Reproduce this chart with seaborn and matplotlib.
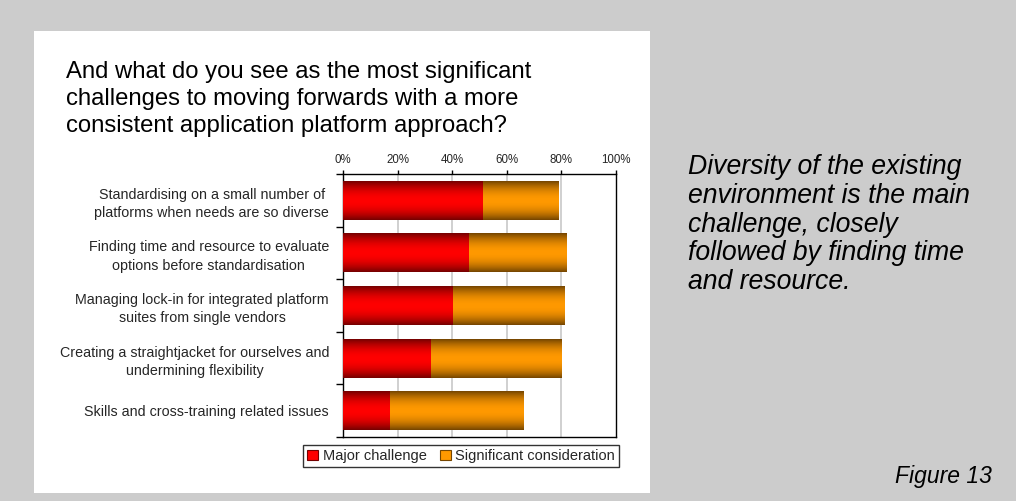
import numpy as np
import pandas as pd
import matplotlib
matplotlib.use("Agg")
import matplotlib.pyplot as plt
from matplotlib.patches import Rectangle, Patch
from matplotlib.colors import to_rgb
import seaborn as sns

# Survey responses (% of respondents)
challenges = [
    "Standardising on a small number of\nplatforms when needs are so diverse",
    "Finding time and resource to evaluate\noptions before standardisation",
    "Managing lock-in for integrated platform\nsuites from single vendors",
    "Creating a straightjacket for ourselves and\nundermining flexibility",
    "Skills and cross-training related issues",
]
major_challenge = [51, 46, 40, 32, 17]
significant_consideration = [28, 36, 41, 48, 49]
x_ticks = [0, 20, 40, 60, 80, 100]
x_tick_labels = ["0%", "20%", "40%", "60%", "80%", "100%"]

title_text = ("And what do you see as the most significant\n"
              "challenges to moving forwards with a more\n"
              "consistent application platform approach?")
side_note = ("Diversity of the existing\nenvironment is the main\n"
             "challenge, closely\nfollowed by finding time\nand resource.")
figure_label = "Figure 13"

sns.set_theme(style="white")
plt.rcParams["font.family"] = ["Liberation Sans", "DejaVu Sans"]

RED_BRIGHT, RED_DARK = "#ff0000", "#760000"
ORG_BRIGHT, ORG_DARK = "#ff9900", "#764600"

df = pd.DataFrame({
    "challenge": challenges,
    "major": major_challenge,
    "total": np.array(major_challenge) + np.array(significant_consideration),
})

W, H = 1016, 501
fig = plt.figure(figsize=(W / 100, H / 100), dpi=100)
fig.patch.set_facecolor("#cccccc")

# white panel holding the chart
fig.patches.append(Rectangle((34 / W, 8 / H), 616 / W, 462 / H,
                             transform=fig.transFigure, facecolor="white",
                             edgecolor="none", zorder=-5))

ax = fig.add_axes([343 / W, 1 - 437 / H, 273 / W, 263 / H])
ax.set_facecolor("white")
ax.set_zorder(1)

sns.barplot(data=df, y="challenge", x="total", color=ORG_BRIGHT, orient="h",
            width=0.74, ax=ax, zorder=2, linewidth=0)
sns.barplot(data=df, y="challenge", x="major", color=RED_BRIGHT, orient="h",
            width=0.74, ax=ax, zorder=3, linewidth=0)


def shaded(patch, bright, dark, z):
    """Paint a vertical gradient (dark edges, bright middle) inside a bar."""
    x0, y0 = patch.get_x(), patch.get_y()
    w, h = patch.get_width(), patch.get_height()
    t = np.linspace(0, 1, 64)
    f = 1 - np.abs(2 * t - 1) ** 2.0
    b, d = np.array(to_rgb(bright)), np.array(to_rgb(dark))
    img = d[None, :] + (b - d)[None, :] * f[:, None]
    img = np.repeat(img[:, None, :], 2, axis=1)
    im = ax.imshow(img, extent=(x0, x0 + w, y0 + h, y0), aspect="auto",
                   interpolation="bilinear", zorder=z, origin="upper")
    im.set_clip_path(patch)


bars = list(ax.patches)
n = len(challenges)
for p in bars[:n]:
    shaded(p, ORG_BRIGHT, ORG_DARK, 2.5)
for p in bars[n:]:
    shaded(p, RED_BRIGHT, RED_DARK, 3.5)

ax.set_xlim(0, 100)
ax.set_ylim(n - 0.5, -0.5)
ax.set_xlabel("")
ax.set_ylabel("")

# percentage scale on top
ax.xaxis.tick_top()
ax.set_xticks(x_ticks)
ax.set_xticklabels(x_tick_labels, fontsize=8.3)
ax.tick_params(axis="x", direction="out", length=3, width=1, color="black",
               pad=3, top=True, bottom=False)
for xv in x_ticks[1:-1]:
    ax.axvline(xv, color="#c8c8c8", lw=1.2, zorder=1)

# category labels with boundary tick marks
ax.set_yticks(range(n))
ax.set_yticklabels(challenges, fontsize=10.3, multialignment="center",
                   linespacing=1.4)
ax.tick_params(axis="y", which="major", length=0, pad=10)
ax.set_yticks(np.arange(-0.5, n, 1.0), minor=True)
ax.tick_params(axis="y", which="minor", left=True, length=5, width=1,
               color="black", direction="out")

for s in ax.spines.values():
    s.set_visible(True)
    s.set_color("black")
    s.set_linewidth(1)

handles = [Patch(facecolor=RED_BRIGHT, edgecolor=RED_DARK, lw=0.8),
           Patch(facecolor=ORG_BRIGHT, edgecolor=ORG_DARK, lw=0.8)]
leg = fig.legend(handles, ["Major challenge", "Significant consideration"],
                 loc="center", bbox_to_anchor=(461 / W, 1 - 456 / H), ncol=2,
                 fontsize=10.5, frameon=True, fancybox=False, borderpad=0.3,
                 handlelength=0.75, handleheight=0.75, handletextpad=0.3,
                 columnspacing=0.9, borderaxespad=0)
leg.get_frame().set_edgecolor("black")
leg.get_frame().set_linewidth(1)

fig.text(66 / W, 1 - 61 / H, title_text, fontsize=17.2, ha="left", va="top",
         linespacing=1.29, color="black")
fig.text(688 / W, 1 - 154 / H, side_note, fontsize=19.2, style="italic",
         ha="left", va="top", linespacing=1.14, color="black")
fig.text(992 / W, 1 - 483 / H, figure_label, fontsize=16.5, style="italic",
         ha="right", va="baseline", color="black")

fig.savefig("out.png", dpi=100, facecolor=fig.get_facecolor())
